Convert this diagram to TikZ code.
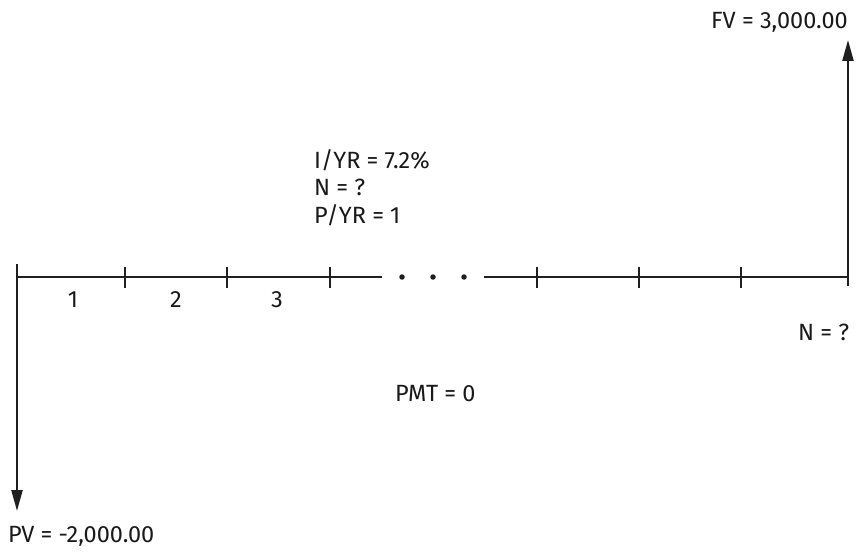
\documentclass[tikz,border=0pt]{standalone}
\usepackage{fontspec}
\setmainfont{Fira Sans}
\usetikzlibrary{arrows.meta}
\begin{document}
\begin{tikzpicture}[x=1pt,y=-1pt,
  axis/.style={line width=2.3pt, draw=black!88},
  tick/.style={line width=2.7pt, draw=black!88},
  flow/.style={line width=2.3pt, draw=black!88, -{Triangle[length=21pt,width=11pt]}},
  lbl/.style={inner sep=0pt, anchor=base west, font=\fontsize{23.5}{26}\selectfont, text=black!90},
  dot/.style={circle, fill=black!88, inner sep=0pt, minimum size=5.5pt}]
\useasboundingbox (0,0) rectangle (862,556);
% coordinates
\coordinate (ltop) at (17,264);
\coordinate (lbot) at (17,511);
\coordinate (a0) at (17,277);
\coordinate (a1) at (382,277);
\coordinate (b0) at (484,277);
\coordinate (b1) at (848,277);
\coordinate (rbot) at (848,286);
\coordinate (rtop) at (848,40);
% timeline
\draw[axis] (a0) -- (a1);
\draw[axis] (b0) -- (b1);
\foreach \x [count=\i] in {125,227,330,537,639,741}{
  \coordinate (t\i a) at (\x,267);
  \coordinate (t\i b) at (\x,288);
  \draw[tick] (t\i a) -- (t\i b);
}
\node[dot] (d1) at (402,277) {};
\node[dot] (d2) at (433,277) {};
\node[dot] (d3) at (464,277) {};
% cash flows
\draw[flow] (ltop) -- (lbot);
\draw[flow] (rbot) -- (rtop);
% labels
\node[lbl, anchor=base] (n1) at (73,307) {1};
\node[lbl, anchor=base] (n2) at (176,307) {2};
\node[lbl, anchor=base] (n3) at (277,307) {3};
\node[lbl] (pv) at (8,542) {PV = -2,000.00};
\node[lbl] (fv) at (711,29) {FV = 3,000.00};
\node[lbl] (iyr) at (314,169) {I/YR = 7.2\%};
\node[lbl] (nq) at (314,196) {N = ?};
\node[lbl] (pyr) at (314,223) {P/YR = 1};
\node[lbl] (nr) at (798,340) {N = ?};
\node[lbl] (pmt) at (395,401) {PMT = 0};
\end{tikzpicture}
\end{document}
